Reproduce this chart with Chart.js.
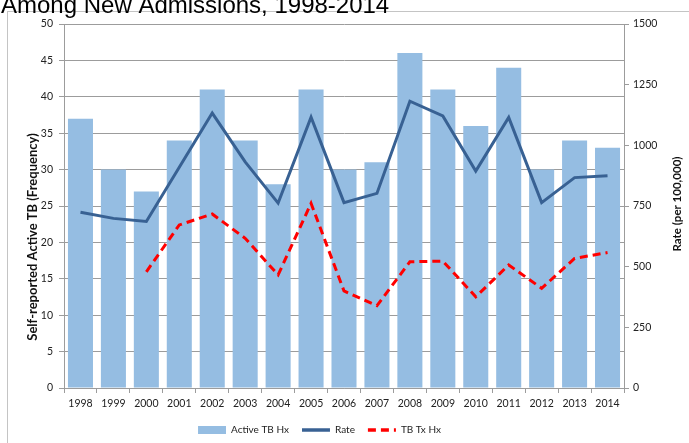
<!DOCTYPE html>
<html>
<head>
<meta charset="utf-8">
<script src="https://cdn.jsdelivr.net/npm/chart.js@4.4.1/dist/chart.umd.min.js"></script>
<style>
  html, body { margin: 0; padding: 0; background: #fff; }
  #wrap { width: 689px; height: 443px; position: relative; }
</style>
</head>
<body>
<div id="wrap"><canvas id="c" width="689" height="443"></canvas></div>
<script>
const years = ['1998','1999','2000','2001','2002','2003','2004','2005','2006','2007','2008','2009','2010','2011','2012','2013','2014'];
const activeTB = [37, 30, 27, 34, 41, 34, 28, 41, 30, 31, 46, 41, 36, 44, 30, 34, 33];
const rate = [724, 699, 686, 910, 1133, 932, 762, 1116, 764, 802, 1182, 1121, 894, 1115, 764, 867, 875];
const tbTxHx = [null, null, 479, 672, 717, 617, 466, 761, 400, 339, 520, 523, 376, 507, 411, 534, 558];
const titleText = 'Among New Admissions, 1998-2014';
const leftTitle = 'Self-reported Active TB (Frequency)';
const rightTitle = 'Rate (per 100,000)';

const FONT = 'Lato, "Open Sans", sans-serif';
const GRID = '#9c9c9c';

const decor = {
  id: 'decor',
  beforeDraw(chart) {
    const ctx = chart.ctx;
    ctx.save();
    ctx.fillStyle = '#ffffff';
    ctx.fillRect(0, 0, chart.width, chart.height);
    ctx.strokeStyle = '#c4c4c4';
    ctx.lineWidth = 1;
    ctx.strokeRect(7.5, 11.5, 720, 460);
    ctx.restore();
  },
  afterLayout(chart) {
    const l = chart.legend;
    if (l) {
      const dx = -25;
      l.left += dx; l.right += dx;
      const h = l.height;
      l.top = 412; l.bottom = 412 + h;
    }
  },
  afterDraw(chart) {
    const ctx = chart.ctx;
    ctx.save();
    ctx.fillStyle = '#000';
    ctx.font = '24px "Liberation Sans", Arial, sans-serif';
    ctx.textBaseline = 'alphabetic';
    ctx.textAlign = 'left';
    ctx.fillText(titleText, 1, 13);
    ctx.restore();

    ctx.save();
    ctx.translate(33, 237);
    ctx.rotate(-Math.PI / 2);
    ctx.font = 'bold 13px ' + FONT;
    ctx.textAlign = 'center';
    ctx.textBaseline = 'middle';
    ctx.fillStyle = '#111';
    ctx.fillText(leftTitle, 0, 0);
    ctx.restore();

    ctx.save();
    ctx.translate(677, 204);
    ctx.rotate(-Math.PI / 2);
    ctx.font = 'bold 11.5px ' + FONT;
    ctx.textAlign = 'center';
    ctx.textBaseline = 'middle';
    ctx.fillStyle = '#111';
    ctx.fillText(rightTitle, 0, 0);
    ctx.restore();
  }
};

new Chart(document.getElementById('c'), {
  type: 'bar',
  data: {
    labels: years,
    datasets: [
      {
        type: 'bar',
        label: 'Active TB Hx',
        data: activeTB,
        yAxisID: 'y',
        backgroundColor: '#95BDE2',
        borderWidth: 0,
        categoryPercentage: 1.0,
        barPercentage: 0.76,
        order: 3
      },
      {
        type: 'line',
        label: 'Rate',
        data: rate,
        yAxisID: 'y1',
        borderColor: '#386193',
        backgroundColor: '#386193',
        borderWidth: 3,
        pointRadius: 0,
        tension: 0,
        order: 2
      },
      {
        type: 'line',
        label: 'TB Tx Hx',
        data: tbTxHx,
        yAxisID: 'y1',
        borderColor: '#FF0000',
        backgroundColor: '#FF0000',
        borderWidth: 3,
        borderDash: [8, 5],
        pointRadius: 0,
        tension: 0,
        spanGaps: false,
        order: 1
      }
    ]
  },
  options: {
    responsive: false,
    animation: false,
    devicePixelRatio: 1,
    layout: { padding: { top: 24, left: 0, right: 0, bottom: 0 } },
    plugins: {
      title: { display: false },
      tooltip: { enabled: false },
      legend: {
        display: true,
        position: 'bottom',
        labels: {
          usePointStyle: true,
          pointStyleWidth: 28,
          boxHeight: 8,
          padding: 13,
          color: '#222',
          font: { family: FONT, size: 10 },
          generateLabels(chart) {
            return chart.data.datasets.map((ds, i) => ({
              text: ds.label,
              datasetIndex: i,
              fillStyle: ds.backgroundColor,
              strokeStyle: ds.borderColor,
              lineWidth: ds.type === 'bar' ? 0 : 3.5,
              lineDash: ds.borderDash || [],
              lineCap: 'butt',
              pointStyle: ds.type === 'bar' ? 'rect' : 'line',
              fontColor: '#222',
              hidden: false
            }));
          }
        }
      }
    },
    scales: {
      x: {
        offset: true,
        grid: { display: true, drawOnChartArea: false, drawTicks: true, tickLength: 5, color: GRID, offset: true },
        border: { display: true, color: GRID },
        ticks: { color: '#222', font: { family: FONT, size: 10.5 }, maxRotation: 0, autoSkip: false, padding: 4 },
        afterFit(scale) { scale.height = 443 - 388 - (scale.chart.legend ? scale.chart.legend.height : 0); }
      },
      y: {
        position: 'left',
        min: 0, max: 50,
        ticks: { stepSize: 5, color: '#222', font: { family: FONT, size: 10.5 }, padding: 6 },
        grid: { color: GRID, tickLength: 5, drawTicks: true },
        border: { display: true, color: GRID },
        title: { display: false },
        afterFit(scale) { scale.width = 64; }
      },
      y1: {
        position: 'right',
        min: 0, max: 1500,
        ticks: { stepSize: 250, color: '#222', font: { family: FONT, size: 10.5 }, padding: 4,
                 callback: (v) => String(v) },
        grid: { drawOnChartArea: false, color: GRID, tickLength: 5, drawTicks: true },
        border: { display: true, color: GRID },
        title: { display: false },
        afterFit(scale) { scale.width = 65; }
      }
    }
  },
  plugins: [decor]
});
</script>
</body>
</html>
